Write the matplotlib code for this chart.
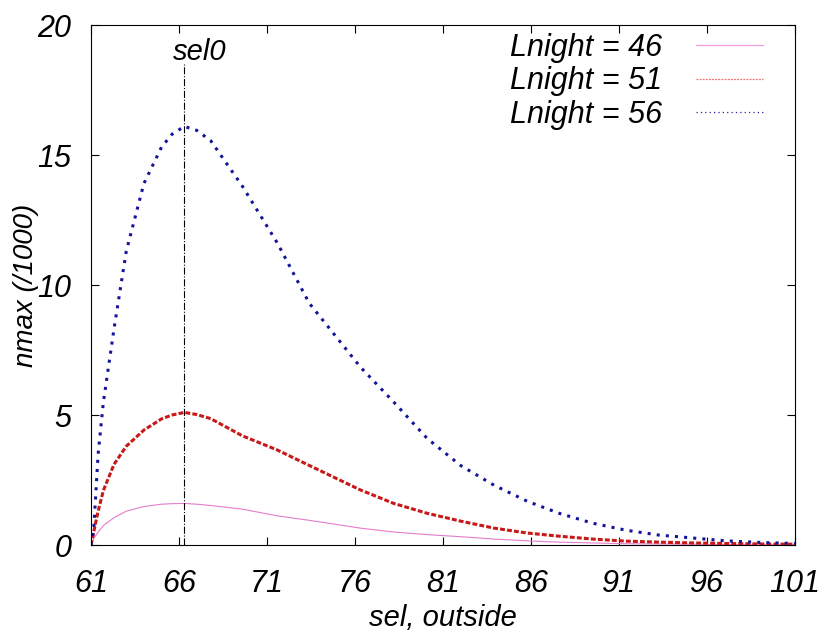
import matplotlib.pyplot as plt
from matplotlib.lines import Line2D

plt.rcParams['font.family'] = ['Liberation Sans', 'DejaVu Sans']
plt.rcParams['font.style'] = 'italic'

# данные
sel = [61, 61.15, 61.4, 61.7, 62.3, 63, 64, 65, 65.6, 66.3, 67, 67.8, 69.6, 71.6, 73.4,
       76.3, 78.2, 80.1, 82, 83.9, 85.8, 87.6, 89.5, 91.4, 93.3, 95.2, 97.1, 99, 101]
n46 = [0, 0.25, 0.5, 0.75, 1.05, 1.3, 1.48, 1.57, 1.59, 1.6, 1.57, 1.52, 1.38, 1.12, 0.95,
       0.65, 0.5, 0.4, 0.32, 0.23, 0.16, 0.11, 0.08, 0.05, 0.04, 0.03, 0.02, 0.01, 0.01]
n51 = [0, 0.5, 1.3, 2.1, 3.1, 3.8, 4.42, 4.85, 5.0, 5.1, 5.02, 4.86, 4.2, 3.65, 3.06,
       2.12, 1.6, 1.22, 0.92, 0.65, 0.46, 0.34, 0.23, 0.15, 0.11, 0.08, 0.06, 0.04, 0.03]
n56 = [0, 0.6, 3.5, 5.5, 8.3, 11.3, 13.9, 15.3, 15.8, 16.1, 15.95, 15.55, 13.8, 11.6, 9.3,
       6.85, 5.5, 4.1, 3.06, 2.3, 1.68, 1.22, 0.84, 0.57, 0.38, 0.27, 0.16, 0.1, 0.06]
labels = ['Lnight = 46', 'Lnight = 51', 'Lnight = 56']
sel0 = 66.3
xticks = [61, 66, 71, 76, 81, 86, 91, 96, 101]
yticks = [0, 5, 10, 15, 20]

fig = plt.figure(figsize=(8.28, 6.35), dpi=100)
ax = fig.add_axes([0.110, 0.1417, 0.850, 0.8189])

ax.plot(sel, n46, color='#e47ccc', lw=0.8, ls='-')
ax.plot(sel, n51, color='#c81818', lw=2.2, ls=(0, (1.6, 0.7)))
ax.plot(sel, n56, color='#14149a', lw=2.2, ls=(0, (1, 2.0)))

# линия sel0
ax.plot([sel0, sel0], [0, 18.5], color='black', lw=0.8, ls='-.')
ax.annotate('sel0', xy=(sel0, 18.95), xytext=(11, 0), textcoords='offset points',
            ha='center', va='center', fontsize=21)

ax.set_xlim(61, 101)
ax.set_ylim(0, 20)
ax.set_xticks(xticks)
ax.set_yticks(yticks)
ax.tick_params(direction='in', length=6, width=0.8, top=True, right=True,
               labelsize=22)
ax.tick_params(axis='x', pad=17)
ax.tick_params(axis='y', pad=14)
for s in ax.spines.values():
    s.set_linewidth(0.8)

ax.set_xlabel('sel, outside', fontsize=21, labelpad=4)
ax.set_ylabel('nmax (/1000)', fontsize=20, labelpad=-1)

handles = [Line2D([], [], color='#f0a0d8', lw=0.9),
           Line2D([], [], color='#f07070', lw=0.9, ls=(0, (1.5, 1))),
           Line2D([], [], color='#2020a0', lw=0.9, ls=(0, (1, 2.5)))]
ax.legend(handles, labels, loc='upper right', bbox_to_anchor=(0.9545, 0.985),
          frameon=False, markerfirst=False, fontsize=22, handlelength=2.2,
          handletextpad=1.1, labelspacing=0.12, borderpad=0, borderaxespad=0)

fig.savefig('out.png', dpi=100)
